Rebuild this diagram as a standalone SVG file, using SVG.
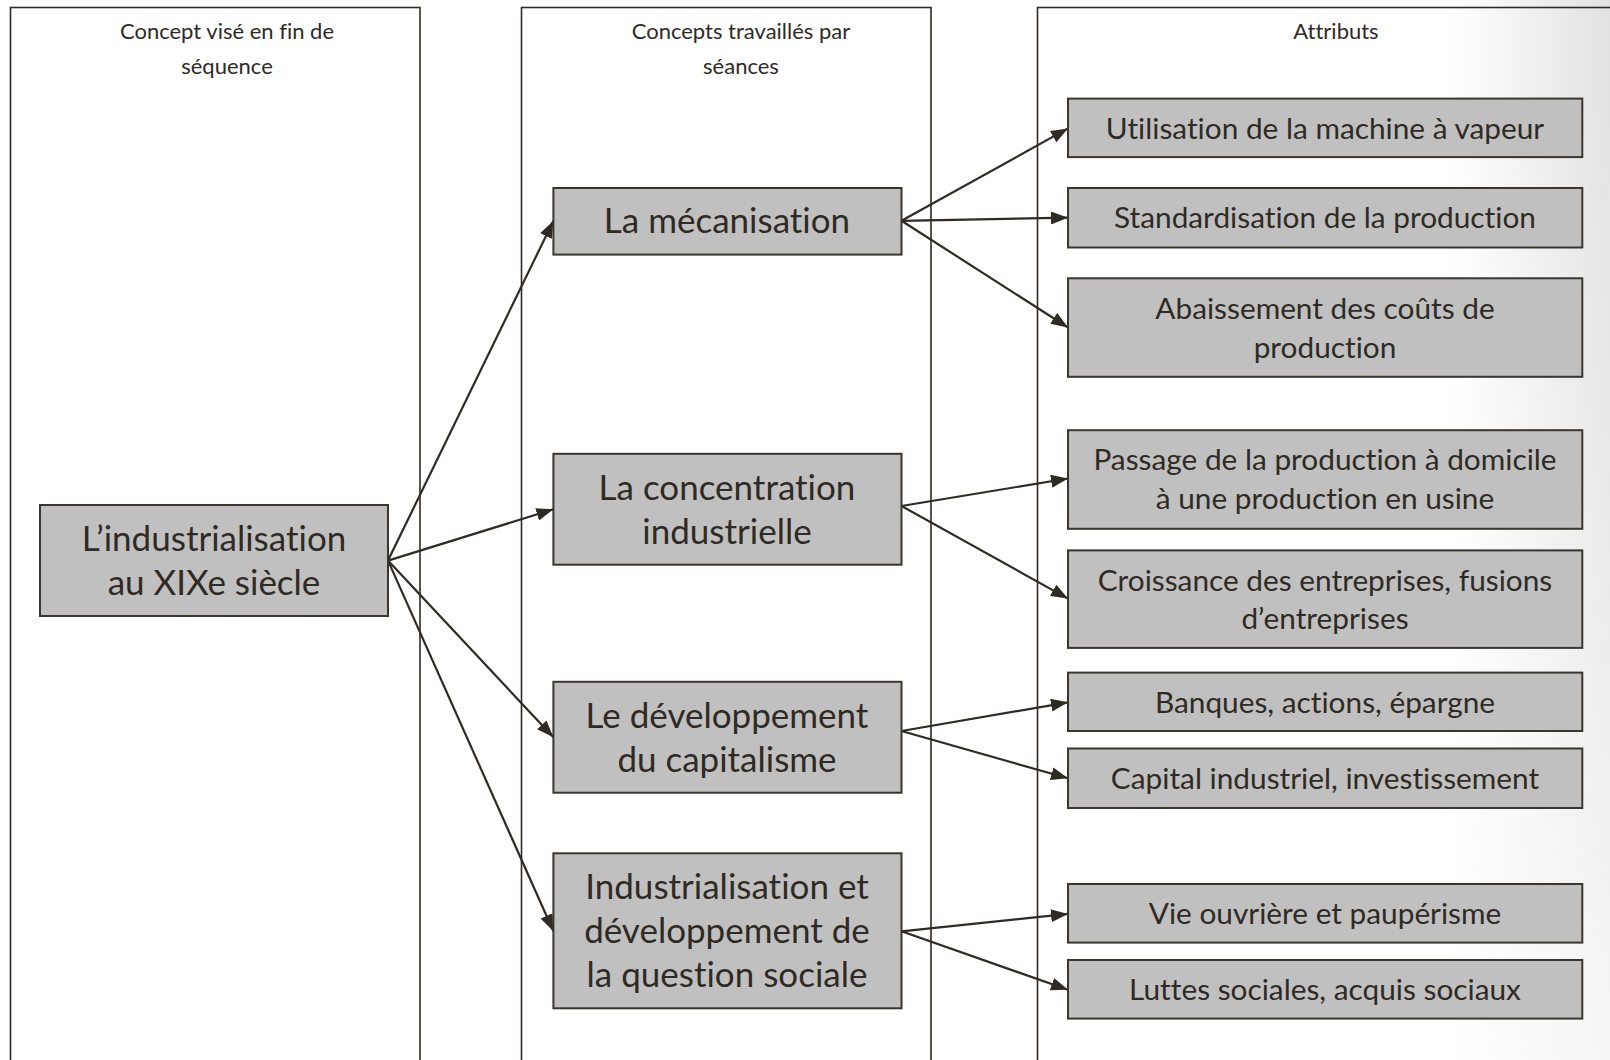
<svg xmlns="http://www.w3.org/2000/svg" width="1610" height="1060" viewBox="0 0 1610 1060">
<defs>
<linearGradient id="bgh" gradientUnits="userSpaceOnUse" x1="1450" y1="0" x2="1610" y2="0">
<stop offset="0" stop-color="#e2e2e2" stop-opacity="0"/>
<stop offset="1" stop-color="#e2e2e2" stop-opacity="1"/>
</linearGradient>
<linearGradient id="bgv" gradientUnits="userSpaceOnUse" x1="0" y1="100" x2="0" y2="1060">
<stop offset="0" stop-color="#ffffff"/>
<stop offset="1" stop-color="#ffffff" stop-opacity="0.35"/>
</linearGradient>
<mask id="fade" maskUnits="userSpaceOnUse" x="1400" y="0" width="210" height="1060">
<rect x="1400" y="0" width="210" height="1060" fill="url(#bgv)"/>
</mask>
<marker id="arr" viewBox="0 0 17 13" refX="17" refY="6.5" markerWidth="17" markerHeight="13" markerUnits="userSpaceOnUse" orient="auto">
<path d="M0,0 L17,6.5 L0,13 z" fill="#2f2b24"/>
</marker>
</defs>
<style>
text{font-variant-ligatures:none;font-feature-settings:"liga" 0,"clig" 0}
.col{fill:none;stroke:#2f2b24;stroke-width:1.6}
.box{fill:#c0c0c0;stroke:#3a362e;stroke-width:2}
.hd{font-family:Lato,"Liberation Sans",sans-serif;font-size:22px;fill:#2f2b24;text-anchor:middle}
.big{font-family:Lato,"Liberation Sans",sans-serif;font-size:35px;fill:#2f2b24;text-anchor:middle}
.att{font-family:Lato,"Liberation Sans",sans-serif;font-size:29.8px;fill:#2f2b24;text-anchor:middle}
.cn{fill:none;stroke:#2f2b24;stroke-width:2.2;marker-end:url(#arr)}
</style>
<rect x="0" y="0" width="1610" height="1060" fill="#ffffff"/>
<rect x="1400" y="0" width="210" height="1060" fill="url(#bgh)" mask="url(#fade)"/>

<g id="columns">
<rect class="col" x="10.5" y="7.5" width="409.5" height="1060"/>
<rect class="col" x="521.5" y="7.5" width="409.5" height="1060"/>
<rect class="col" x="1037.5" y="7.5" width="600" height="1060"/>
<text class="hd" x="227" y="39">Concept visé en fin de</text>
<text class="hd" x="227" y="74">séquence</text>
<text class="hd" x="741" y="39">Concepts travaillés par</text>
<text class="hd" x="741" y="74">séances</text>
<text class="hd" x="1336" y="39">Attributs</text>
</g>

<g id="connectors">
<line class="cn" x1="388" y1="560.6" x2="553.4" y2="220.8"/>
<line class="cn" x1="388" y1="560.6" x2="553.4" y2="509.3"/>
<line class="cn" x1="388" y1="560.6" x2="553.4" y2="737.3"/>
<line class="cn" x1="388" y1="560.6" x2="553.4" y2="931.3"/>
<line class="cn" x1="901.5" y1="220.8" x2="1068" y2="128.4"/>
<line class="cn" x1="901.5" y1="220.8" x2="1068" y2="217.7"/>
<line class="cn" x1="901.5" y1="220.8" x2="1068" y2="327.5"/>
<line class="cn" x1="901.5" y1="506" x2="1068" y2="478.5"/>
<line class="cn" x1="901.5" y1="506" x2="1068" y2="598.6"/>
<line class="cn" x1="901.5" y1="731" x2="1068" y2="702.3"/>
<line class="cn" x1="901.5" y1="731" x2="1068" y2="778.3"/>
<line class="cn" x1="901.5" y1="931.3" x2="1068" y2="913.9"/>
<line class="cn" x1="901.5" y1="931.3" x2="1068" y2="989.8"/>
</g>

<g id="n-main">
<rect class="box" x="40" y="505" width="348" height="111"/>
<text class="big" x="214" y="551">L’industrialisation</text>
<text class="big" x="214" y="595">au XIXe siècle</text>
</g>

<g id="n-meca">
<rect class="box" x="553.4" y="188" width="348.1" height="66.6"/>
<text class="big" x="727" y="233">La mécanisation</text>
</g>
<g id="n-conc">
<rect class="box" x="553.4" y="453.8" width="348.1" height="110.9"/>
<text class="big" x="727" y="500">La concentration</text>
<text class="big" x="727" y="544">industrielle</text>
</g>
<g id="n-dev">
<rect class="box" x="553.4" y="681.8" width="348.1" height="110.9"/>
<text class="big" x="727" y="728">Le développement</text>
<text class="big" x="727" y="772">du capitalisme</text>
</g>
<g id="n-soc">
<rect class="box" x="553.4" y="853.3" width="348.1" height="155"/>
<text class="big" x="727" y="899">Industrialisation et</text>
<text class="big" x="727" y="943">développement de</text>
<text class="big" x="727" y="987">la question sociale</text>
</g>

<g id="a-vapeur">
<rect class="box" x="1068" y="98.6" width="514.3" height="58.5"/>
<text class="att" x="1325" y="138.5">Utilisation de la machine à vapeur</text>
</g>
<g id="a-standard">
<rect class="box" x="1068" y="188" width="514.3" height="59.5"/>
<text class="att" x="1325" y="228">Standardisation de la production</text>
</g>
<g id="a-couts">
<rect class="box" x="1068" y="278.3" width="514.3" height="98.5"/>
<text class="att" x="1325" y="319">Abaissement des coûts de</text>
<text class="att" x="1325" y="358">production</text>
</g>
<g id="a-passage">
<rect class="box" x="1068" y="430.2" width="514.3" height="98.6"/>
<text class="att" x="1325" y="470">Passage de la production à domicile</text>
<text class="att" x="1325" y="509">à une production en usine</text>
</g>
<g id="a-croissance">
<rect class="box" x="1068" y="550.4" width="514.3" height="97.5"/>
<text class="att" x="1325" y="591">Croissance des entreprises, fusions</text>
<text class="att" x="1325" y="629">d’entreprises</text>
</g>
<g id="a-banques">
<rect class="box" x="1068" y="672.6" width="514.3" height="58.4"/>
<text class="att" x="1325" y="712.5">Banques, actions, épargne</text>
</g>
<g id="a-capital">
<rect class="box" x="1068" y="748.5" width="514.3" height="59.5"/>
<text class="att" x="1325" y="788.5">Capital industriel, investissement</text>
</g>
<g id="a-vie">
<rect class="box" x="1068" y="884" width="514.3" height="58.6"/>
<text class="att" x="1325" y="924">Vie ouvrière et paupérisme</text>
</g>
<g id="a-luttes">
<rect class="box" x="1068" y="960" width="514.3" height="58.6"/>
<text class="att" x="1325" y="1000">Luttes sociales, acquis sociaux</text>
</g>
</svg>
